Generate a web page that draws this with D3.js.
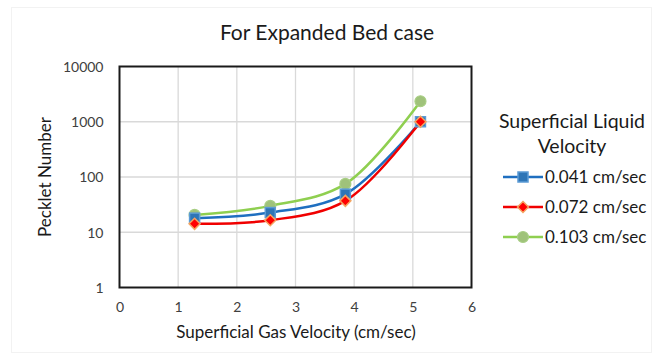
<!DOCTYPE html>
<html>
<head>
<meta charset="utf-8">
<script src="https://cdn.jsdelivr.net/npm/d3@7"></script>
<style>
  html, body { margin: 0; padding: 0; background: #fff; }
  svg { display: block; font-family: Lato, "Open Sans", sans-serif; }
</style>
</head>
<body>
<svg id="chart" width="654" height="355"></svg>
<script>
// Superficial gas velocity (cm/sec) at which each run was taken
const gasVelocity = [1.28, 2.57, 3.85, 5.13];

// Pecklet number for each superficial liquid velocity
const series041 = [18, 22.7, 49, 1000];
const series072 = [14.2, 16.5, 37, 1000];
const series103 = [20.6, 30, 75, 2350];

const seriesNames = ["0.041 cm/sec", "0.072 cm/sec", "0.103 cm/sec"];
const xTicks = [0, 1, 2, 3, 4, 5, 6];
const yTicks = [1, 10, 100, 1000, 10000];

const seriesList = [
  { name: seriesNames[0], values: series041, line: "#1F6FC0", fill: "#2E75B6", stroke: "#5B9BD5", shape: "square" },
  { name: seriesNames[1], values: series072, line: "#F00000", fill: "#FF0000", stroke: "#F4A460", shape: "diamond" },
  { name: seriesNames[2], values: series103, line: "#8FCF50", fill: "#9FC27A", stroke: "#A8CE84", shape: "circle" }
];

const svg = d3.select("#chart");

// faint outer chart frame
svg.append("rect")
  .attr("x", 11.5).attr("y", 7.5).attr("width", 640).attr("height", 345)
  .attr("fill", "none").attr("stroke", "#f2f2f2");

const plot = { left: 119.5, right: 471.5, top: 66.5, bottom: 287.5 };

const x = d3.scaleLinear().domain([0, 6]).range([plot.left, plot.right]);
const y = d3.scaleLog().domain([1, 10000]).range([plot.bottom, plot.top]);

// gridlines
const grid = svg.append("g");
grid.selectAll(".vg").data(xTicks.slice(1, -1)).join("line")
  .attr("x1", d => x(d)).attr("x2", d => x(d))
  .attr("y1", plot.top).attr("y2", plot.bottom)
  .attr("stroke", "#d9d9d9").attr("stroke-width", 1.3);
grid.selectAll(".hg").data(yTicks.slice(1, -1)).join("line")
  .attr("x1", plot.left).attr("x2", plot.right)
  .attr("y1", d => y(d)).attr("y2", d => y(d))
  .attr("stroke", "#d9d9d9").attr("stroke-width", 1.3);

// axes (labels only, the frame is drawn separately)
const xAxis = svg.append("g")
  .attr("transform", `translate(0,${plot.bottom})`)
  .call(d3.axisBottom(x).tickValues(xTicks).tickSize(0).tickPadding(15).tickFormat(d3.format("d")));
const yAxis = svg.append("g")
  .attr("transform", `translate(${plot.left},0)`)
  .call(d3.axisLeft(y).tickValues(yTicks).tickSize(0).tickPadding(16).tickFormat(d3.format("d")));
[xAxis, yAxis].forEach(a => {
  a.select(".domain").remove();
  a.selectAll("text").attr("fill", "#404040").style("font-size", "14px")
    .style("font-family", "Lato, sans-serif");
});
yAxis.selectAll("text").attr("dy", "0.35em");

// plot frame
svg.append("rect")
  .attr("x", plot.left).attr("y", plot.top)
  .attr("width", plot.right - plot.left).attr("height", plot.bottom - plot.top)
  .attr("fill", "none").attr("stroke", "#1a1a1a").attr("stroke-width", 2);

const line = d3.line()
  .x((d, i) => x(gasVelocity[i]))
  .y(d => y(d))
  .curve(d3.curveCatmullRom.alpha(0.5));

function drawMarker(g, shape, cx, cy, s) {
  if (shape === "square") {
    g.append("rect").attr("x", cx - 5).attr("y", cy - 5).attr("width", 10).attr("height", 10)
      .attr("fill", s.fill).attr("stroke", s.stroke).attr("stroke-width", 1.5);
  } else if (shape === "diamond") {
    g.append("path").attr("d", `M${cx},${cy - 5.5}L${cx + 5.5},${cy}L${cx},${cy + 5.5}L${cx - 5.5},${cy}Z`)
      .attr("fill", s.fill).attr("stroke", s.stroke).attr("stroke-width", 1.5);
  } else {
    g.append("circle").attr("cx", cx).attr("cy", cy).attr("r", 5.5)
      .attr("fill", s.fill).attr("stroke", s.stroke).attr("stroke-width", 1.2);
  }
}

// lines first, then markers on top
const linesG = svg.append("g");
const markersG = svg.append("g");
seriesList.forEach(s => {
  linesG.append("path").datum(s.values)
    .attr("d", line).attr("fill", "none")
    .attr("stroke", s.line).attr("stroke-width", 2.5);
});
[seriesList[2], seriesList[0], seriesList[1]].forEach(s => {
  s.values.forEach((v, i) => drawMarker(markersG, s.shape, x(gasVelocity[i]), y(v), s));
});

// title
svg.append("text").attr("x", 327).attr("y", 40).attr("text-anchor", "middle")
  .style("font-size", "21px").attr("fill", "#1a1a1a").text("For Expanded Bed case");

// axis titles
svg.append("text").attr("x", 296).attr("y", 338).attr("text-anchor", "middle")
  .style("font-size", "17px").attr("fill", "#1a1a1a").text("Superficial Gas Velocity (cm/sec)");
svg.append("text").attr("transform", "translate(51,177) rotate(-90)").attr("text-anchor", "middle")
  .style("font-size", "17px").attr("fill", "#1a1a1a").text("Pecklet Number");

// legend
const legend = svg.append("g");
legend.append("text").attr("x", 572).attr("y", 128).attr("text-anchor", "middle")
  .style("font-size", "19.5px").attr("fill", "#1a1a1a").text("Superficial Liquid");
legend.append("text").attr("x", 572).attr("y", 153).attr("text-anchor", "middle")
  .style("font-size", "19.5px").attr("fill", "#1a1a1a").text("Velocity");
seriesList.forEach((s, i) => {
  const ly = 177 + i * 30;
  legend.append("line").attr("x1", 503).attr("x2", 543).attr("y1", ly).attr("y2", ly)
    .attr("stroke", s.line).attr("stroke-width", 2.5);
  drawMarker(legend, s.shape, 523, ly, s);
  legend.append("text").attr("x", 545).attr("y", ly + 5.5)
    .style("font-size", "17px").attr("fill", "#1a1a1a").text(s.name);
});
</script>
</body>
</html>
